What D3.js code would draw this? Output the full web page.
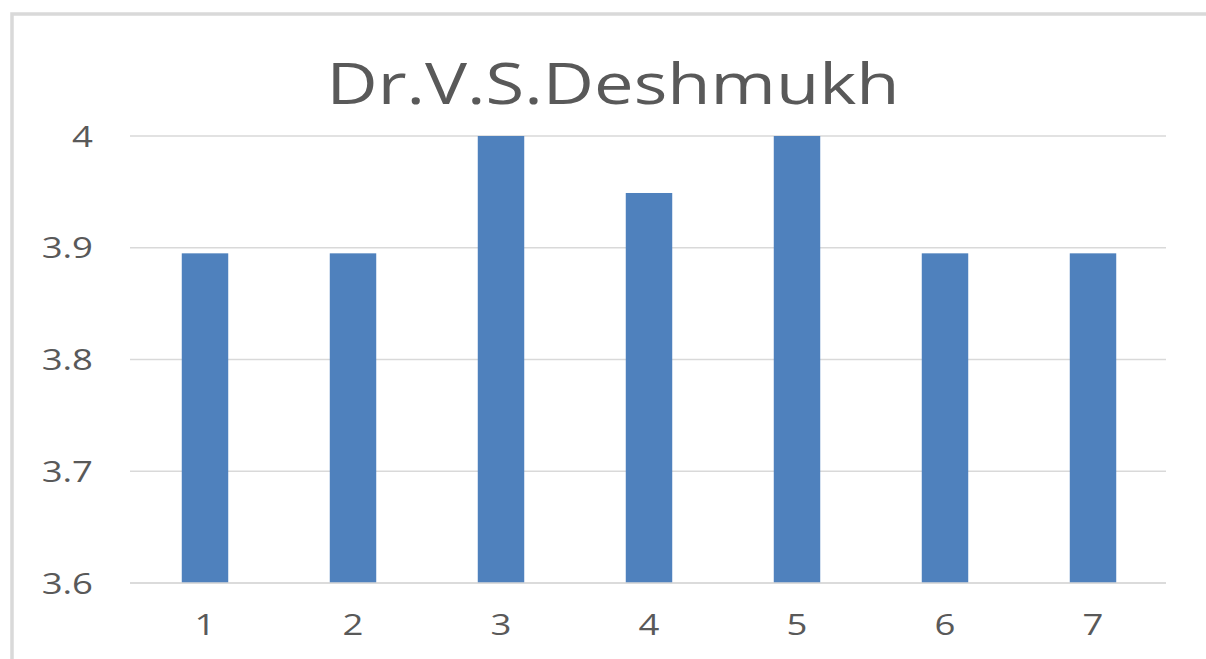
<!DOCTYPE html>
<html>
<head>
<meta charset="utf-8">
<script src="https://cdn.jsdelivr.net/npm/d3@7/dist/d3.min.js"></script>
<style>
  html, body { margin: 0; padding: 0; background: #fff; }
  svg { display: block; }
  text { font-family: "Open Sans", "Noto Sans", sans-serif; fill: #595959; }
</style>
</head>
<body>
<svg id="chart" width="1206" height="659"></svg>
<script>
// Chart data
const categories = ["1", "2", "3", "4", "5", "6", "7"];
const values = [3.895, 3.895, 4.0, 3.949, 4.0, 3.895, 3.895];
const yTicks = [3.6, 3.7, 3.8, 3.9, 4.0];
const titleText = "Dr.V.S.Deshmukh";

const svg = d3.select("#chart");
const W = 1206, H = 659;
const STRETCH = 1.26; // wide text rendering

// Chart frame
svg.append("rect")
  .attr("x", 12).attr("y", 14)
  .attr("width", W + 20).attr("height", H + 20)
  .attr("fill", "#fff")
  .attr("stroke", "#d9d9d9")
  .attr("stroke-width", 3.5);

const plot = { left: 130, right: 1166, top: 136, bottom: 583 };

const x = d3.scaleBand()
  .domain(categories)
  .range([plot.left, plot.right])
  .paddingInner(0.686)
  .paddingOuter(0.343);

const y = d3.scaleLinear()
  .domain([3.6, 4.0])
  .range([plot.bottom, plot.top]);

// Horizontal gridlines
svg.append("g")
  .selectAll("line")
  .data(yTicks)
  .join("line")
  .attr("x1", plot.left).attr("x2", plot.right)
  .attr("y1", d => y(d)).attr("y2", d => y(d))
  .attr("stroke", "#d9d9d9")
  .attr("stroke-width", 1.5);

// Bars
svg.append("g")
  .selectAll("rect")
  .data(values)
  .join("rect")
  .attr("x", (d, i) => x(categories[i]) + 1)
  .attr("width", x.bandwidth())
  .attr("y", d => y(d))
  .attr("height", d => y(3.6) - y(d))
  .attr("fill", "#4f81bd");

// Category axis line
svg.append("line")
  .attr("x1", plot.left).attr("x2", plot.right)
  .attr("y1", y(3.6)).attr("y2", y(3.6))
  .attr("stroke", "#d9d9d9")
  .attr("stroke-width", 1.5);

function widen(sel) {
  sel.each(function () {
    const w = this.getComputedTextLength();
    d3.select(this)
      .attr("textLength", w * STRETCH)
      .attr("lengthAdjust", "spacingAndGlyphs");
  });
}

// Value axis labels
const yAxis = d3.axisLeft(y)
  .tickValues(yTicks)
  .tickFormat(d => d === 4 ? "4" : d3.format(".1f")(d))
  .tickSize(0)
  .tickPadding(0);
const gy = svg.append("g")
  .attr("transform", `translate(93,0)`)
  .call(yAxis);
gy.select(".domain").remove();
gy.selectAll("text")
  .attr("font-size", 29)
  .attr("fill", "#595959")
  .attr("font-family", "'Open Sans', sans-serif")
  .attr("dy", "0.35em")
  .call(widen);

// Category axis labels
const xAxis = d3.axisBottom(x).tickSize(0).tickPadding(0);
const gx = svg.append("g")
  .attr("transform", `translate(1,${plot.bottom})`)
  .call(xAxis);
gx.select(".domain").remove();
gx.selectAll("text")
  .attr("font-size", 29)
  .attr("fill", "#595959")
  .attr("font-family", "'Open Sans', sans-serif")
  .attr("dy", null)
  .attr("y", 52)
  .call(widen);

// Title
svg.append("text")
  .attr("x", 613)
  .attr("y", 104)
  .attr("text-anchor", "middle")
  .attr("font-size", 56)
  .text(titleText)
  .call(widen);
</script>
</body>
</html>
